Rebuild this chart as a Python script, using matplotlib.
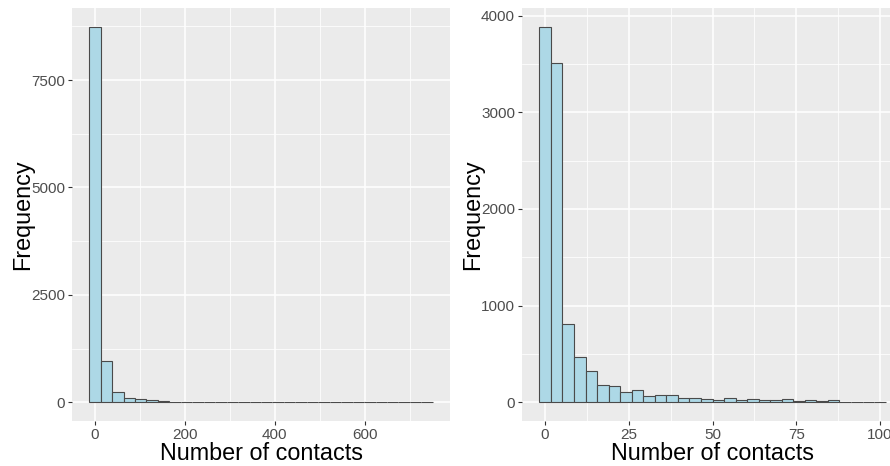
import numpy as np
import matplotlib.pyplot as plt
from matplotlib.ticker import MultipleLocator

plt.rcParams['font.family'] = ['Liberation Sans', 'DejaVu Sans']

# histogram of all contacts (30 bins, ggplot style)
all_max = 739
all_counts = [8740, 962, 230, 110, 70, 47, 25, 14, 12, 0,
              10, 10, 0, 10, 10, 0, 0, 0, 0, 0,
              0, 0, 0, 0, 0, 0, 0, 0, 0, 1]

# histogram restricted to 0-100 contacts
zoom_max = 100
zoom_counts = [3886, 3507, 810, 466, 328, 176, 166, 103, 128, 62,
               72, 72, 48, 48, 38, 21, 45, 24, 31, 24,
               24, 34, 10, 21, 10, 21, 7, 7, 7, 7]

fill = '#ADD8E6'
edge = '#4a4a4a'
panel_bg = '#EBEBEB'


def gg_hist(ax, counts, xmax, xmajor, ymajor, xlim, ylim):
    n = len(counts)
    width = xmax / (n - 1)
    centers = np.arange(n) * width
    ax.bar(centers, counts, width=width, color=fill, edgecolor=edge,
           linewidth=0.8, zorder=3)
    ax.set_facecolor(panel_bg)
    for s in ax.spines.values():
        s.set_visible(False)
    ax.xaxis.set_major_locator(MultipleLocator(xmajor))
    ax.xaxis.set_minor_locator(MultipleLocator(xmajor / 2))
    ax.yaxis.set_major_locator(MultipleLocator(ymajor))
    ax.yaxis.set_minor_locator(MultipleLocator(ymajor / 2))
    ax.grid(which='major', color='white', linewidth=1.1)
    ax.grid(which='minor', color='white', linewidth=0.55)
    ax.set_axisbelow(True)
    ax.tick_params(which='major', length=3, color='#333333',
                   labelcolor='#4D4D4D', labelsize=11, pad=2)
    ax.tick_params(which='minor', length=0)
    ax.set_xlim(*xlim)
    ax.set_ylim(*ylim)
    ax.set_xlabel('Number of contacts', fontsize=16.8, labelpad=0)
    ax.set_ylabel('Frequency', fontsize=16.8, labelpad=-2)


fig = plt.figure(figsize=(8.9, 4.66), dpi=100)
W, H = 890, 466
ax1 = fig.add_axes([72 / W, (H - 421) / H, (450 - 72) / W, (421 - 8) / H])
ax2 = fig.add_axes([522 / W, (H - 421) / H, (903 - 522) / W, (421 - 8) / H])

gg_hist(ax1, all_counts, all_max, 200, 2500, (-51, 790), (-437, 9177))
gg_hist(ax2, zoom_counts, zoom_max, 25, 1000, (-6.9, 106.9), (-194, 4080))

fig.savefig('out.png', dpi=100)
